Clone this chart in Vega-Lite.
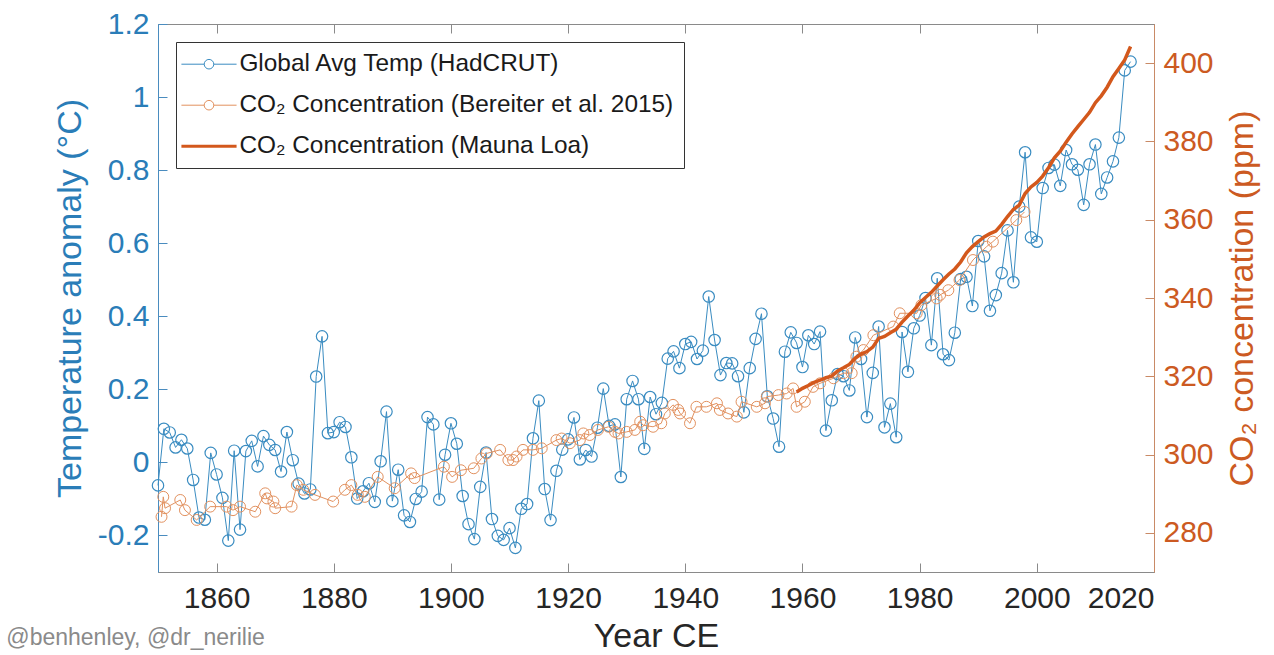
{
  "$schema": "https://vega.github.io/schema/vega-lite/v6.json",
  "width": 996,
  "height": 548,
  "autosize": {"type": "none"},
  "padding": {"left": 158, "top": 24, "right": 120, "bottom": 83},
  "background": "white",
  "config": {
    "font": "Liberation Sans",
    "view": {"stroke": "#8a8a8a", "strokeWidth": 1},
    "axis": {
      "grid": false,
      "labelFont": "Liberation Sans",
      "titleFont": "Liberation Sans",
      "titleFontWeight": "normal",
      "tickSize": -9,
      "labelFontSize": 30,
      "titleFontSize": 34,
      "domainWidth": 1,
      "tickWidth": 1
    }
  },
  "title": {
    "text": "@benhenley, @dr_nerilie",
    "orient": "bottom",
    "anchor": "start",
    "frame": "bounds",
    "fontSize": 23,
    "fontWeight": "normal",
    "color": "#8a8a8a",
    "font": "Liberation Sans",
    "dx": -47,
    "offset": -26
  },
  "datasets": {
    "temp": [
      {"year": 1850, "anomaly": -0.063}, {"year": 1851, "anomaly": 0.092}, {"year": 1852, "anomaly": 0.082}, {"year": 1853, "anomaly": 0.041}, {"year": 1854, "anomaly": 0.062},
      {"year": 1855, "anomaly": 0.038}, {"year": 1856, "anomaly": -0.048}, {"year": 1857, "anomaly": -0.151}, {"year": 1858, "anomaly": -0.157}, {"year": 1859, "anomaly": 0.026},
      {"year": 1860, "anomaly": -0.033}, {"year": 1861, "anomaly": -0.097}, {"year": 1862, "anomaly": -0.214}, {"year": 1863, "anomaly": 0.032}, {"year": 1864, "anomaly": -0.184},
      {"year": 1865, "anomaly": 0.031}, {"year": 1866, "anomaly": 0.059}, {"year": 1867, "anomaly": -0.011}, {"year": 1868, "anomaly": 0.072}, {"year": 1869, "anomaly": 0.048},
      {"year": 1870, "anomaly": 0.034}, {"year": 1871, "anomaly": -0.025}, {"year": 1872, "anomaly": 0.083}, {"year": 1873, "anomaly": 0.006}, {"year": 1874, "anomaly": -0.058},
      {"year": 1875, "anomaly": -0.085}, {"year": 1876, "anomaly": -0.074}, {"year": 1877, "anomaly": 0.235}, {"year": 1878, "anomaly": 0.345}, {"year": 1879, "anomaly": 0.08},
      {"year": 1880, "anomaly": 0.083}, {"year": 1881, "anomaly": 0.11}, {"year": 1882, "anomaly": 0.097}, {"year": 1883, "anomaly": 0.014}, {"year": 1884, "anomaly": -0.099},
      {"year": 1885, "anomaly": -0.079}, {"year": 1886, "anomaly": -0.057}, {"year": 1887, "anomaly": -0.108}, {"year": 1888, "anomaly": 0.003}, {"year": 1889, "anomaly": 0.139},
      {"year": 1890, "anomaly": -0.106}, {"year": 1891, "anomaly": -0.02}, {"year": 1892, "anomaly": -0.145}, {"year": 1893, "anomaly": -0.163}, {"year": 1894, "anomaly": -0.1},
      {"year": 1895, "anomaly": -0.08}, {"year": 1896, "anomaly": 0.124}, {"year": 1897, "anomaly": 0.104}, {"year": 1898, "anomaly": -0.102}, {"year": 1899, "anomaly": 0.021},
      {"year": 1900, "anomaly": 0.107}, {"year": 1901, "anomaly": 0.051}, {"year": 1902, "anomaly": -0.092}, {"year": 1903, "anomaly": -0.169}, {"year": 1904, "anomaly": -0.21},
      {"year": 1905, "anomaly": -0.067}, {"year": 1906, "anomaly": 0.027}, {"year": 1907, "anomaly": -0.155}, {"year": 1908, "anomaly": -0.201}, {"year": 1909, "anomaly": -0.212},
      {"year": 1910, "anomaly": -0.18}, {"year": 1911, "anomaly": -0.234}, {"year": 1912, "anomaly": -0.127}, {"year": 1913, "anomaly": -0.114}, {"year": 1914, "anomaly": 0.066},
      {"year": 1915, "anomaly": 0.169}, {"year": 1916, "anomaly": -0.073}, {"year": 1917, "anomaly": -0.158}, {"year": 1918, "anomaly": -0.023}, {"year": 1919, "anomaly": 0.035},
      {"year": 1920, "anomaly": 0.063}, {"year": 1921, "anomaly": 0.123}, {"year": 1922, "anomaly": 0.008}, {"year": 1923, "anomaly": 0.034}, {"year": 1924, "anomaly": 0.016},
      {"year": 1925, "anomaly": 0.095}, {"year": 1926, "anomaly": 0.202}, {"year": 1927, "anomaly": 0.1}, {"year": 1928, "anomaly": 0.104}, {"year": 1929, "anomaly": -0.04},
      {"year": 1930, "anomaly": 0.173}, {"year": 1931, "anomaly": 0.223}, {"year": 1932, "anomaly": 0.173}, {"year": 1933, "anomaly": 0.037}, {"year": 1934, "anomaly": 0.179},
      {"year": 1935, "anomaly": 0.132}, {"year": 1936, "anomaly": 0.163}, {"year": 1937, "anomaly": 0.284}, {"year": 1938, "anomaly": 0.304}, {"year": 1939, "anomaly": 0.258},
      {"year": 1940, "anomaly": 0.324}, {"year": 1941, "anomaly": 0.33}, {"year": 1942, "anomaly": 0.283}, {"year": 1943, "anomaly": 0.306}, {"year": 1944, "anomaly": 0.454},
      {"year": 1945, "anomaly": 0.335}, {"year": 1946, "anomaly": 0.239}, {"year": 1947, "anomaly": 0.272}, {"year": 1948, "anomaly": 0.271}, {"year": 1949, "anomaly": 0.236},
      {"year": 1950, "anomaly": 0.137}, {"year": 1951, "anomaly": 0.258}, {"year": 1952, "anomaly": 0.338}, {"year": 1953, "anomaly": 0.407}, {"year": 1954, "anomaly": 0.181},
      {"year": 1955, "anomaly": 0.12}, {"year": 1956, "anomaly": 0.043}, {"year": 1957, "anomaly": 0.303}, {"year": 1958, "anomaly": 0.356}, {"year": 1959, "anomaly": 0.327},
      {"year": 1960, "anomaly": 0.261}, {"year": 1961, "anomaly": 0.348}, {"year": 1962, "anomaly": 0.324}, {"year": 1963, "anomaly": 0.358}, {"year": 1964, "anomaly": 0.087},
      {"year": 1965, "anomaly": 0.17}, {"year": 1966, "anomaly": 0.242}, {"year": 1967, "anomaly": 0.236}, {"year": 1968, "anomaly": 0.197}, {"year": 1969, "anomaly": 0.342},
      {"year": 1970, "anomaly": 0.283}, {"year": 1971, "anomaly": 0.124}, {"year": 1972, "anomaly": 0.245}, {"year": 1973, "anomaly": 0.372}, {"year": 1974, "anomaly": 0.096},
      {"year": 1975, "anomaly": 0.161}, {"year": 1976, "anomaly": 0.069}, {"year": 1977, "anomaly": 0.357}, {"year": 1978, "anomaly": 0.248}, {"year": 1979, "anomaly": 0.367},
      {"year": 1980, "anomaly": 0.402}, {"year": 1981, "anomaly": 0.45}, {"year": 1982, "anomaly": 0.321}, {"year": 1983, "anomaly": 0.504}, {"year": 1984, "anomaly": 0.296},
      {"year": 1985, "anomaly": 0.28}, {"year": 1986, "anomaly": 0.355}, {"year": 1987, "anomaly": 0.502}, {"year": 1988, "anomaly": 0.508}, {"year": 1989, "anomaly": 0.428},
      {"year": 1990, "anomaly": 0.606}, {"year": 1991, "anomaly": 0.564}, {"year": 1992, "anomaly": 0.415}, {"year": 1993, "anomaly": 0.458}, {"year": 1994, "anomaly": 0.518},
      {"year": 1995, "anomaly": 0.635}, {"year": 1996, "anomaly": 0.493}, {"year": 1997, "anomaly": 0.7}, {"year": 1998, "anomaly": 0.849}, {"year": 1999, "anomaly": 0.616},
      {"year": 2000, "anomaly": 0.604}, {"year": 2001, "anomaly": 0.751}, {"year": 2002, "anomaly": 0.806}, {"year": 2003, "anomaly": 0.815}, {"year": 2004, "anomaly": 0.757},
      {"year": 2005, "anomaly": 0.855}, {"year": 2006, "anomaly": 0.816}, {"year": 2007, "anomaly": 0.801}, {"year": 2008, "anomaly": 0.705}, {"year": 2009, "anomaly": 0.816},
      {"year": 2010, "anomaly": 0.87}, {"year": 2011, "anomaly": 0.735}, {"year": 2012, "anomaly": 0.78}, {"year": 2013, "anomaly": 0.824}, {"year": 2014, "anomaly": 0.889},
      {"year": 2015, "anomaly": 1.073}, {"year": 2016, "anomaly": 1.097}
    ],
    "bereiter": [
      {"year": 1850.6, "co2": 284.1}, {"year": 1850.9, "co2": 289.2}, {"year": 1851.2, "co2": 286.3}, {"year": 1853.8, "co2": 288.4}, {"year": 1854.6, "co2": 285.8},
      {"year": 1856.6, "co2": 283.3}, {"year": 1858.9, "co2": 286.7}, {"year": 1861.7, "co2": 286.7}, {"year": 1862.8, "co2": 285.8}, {"year": 1864.0, "co2": 286.7},
      {"year": 1866.6, "co2": 285.4}, {"year": 1868.3, "co2": 290.1}, {"year": 1868.6, "co2": 288.8}, {"year": 1869.7, "co2": 288.0}, {"year": 1870.0, "co2": 286.3},
      {"year": 1872.8, "co2": 286.7}, {"year": 1873.7, "co2": 292.2}, {"year": 1874.8, "co2": 291.0}, {"year": 1876.8, "co2": 289.7}, {"year": 1879.9, "co2": 288.0},
      {"year": 1881.9, "co2": 291.0}, {"year": 1883.0, "co2": 292.2}, {"year": 1884.1, "co2": 289.7}, {"year": 1885.3, "co2": 289.2}, {"year": 1887.5, "co2": 294.3},
      {"year": 1890.4, "co2": 291.4}, {"year": 1893.2, "co2": 295.2}, {"year": 1893.8, "co2": 294.0}, {"year": 1898.8, "co2": 296.9}, {"year": 1900.2, "co2": 294.3},
      {"year": 1901.7, "co2": 296.0}, {"year": 1903.9, "co2": 296.5}, {"year": 1905.2, "co2": 299.0}, {"year": 1906.1, "co2": 300.3}, {"year": 1908.4, "co2": 301.2},
      {"year": 1909.8, "co2": 298.6}, {"year": 1910.6, "co2": 298.6}, {"year": 1911.2, "co2": 299.5}, {"year": 1912.3, "co2": 301.2}, {"year": 1914.0, "co2": 301.2},
      {"year": 1915.5, "co2": 301.6}, {"year": 1918.0, "co2": 303.7}, {"year": 1918.9, "co2": 304.1}, {"year": 1920.3, "co2": 302.9}, {"year": 1922.0, "co2": 303.7},
      {"year": 1922.6, "co2": 305.4}, {"year": 1923.7, "co2": 305.0}, {"year": 1925.1, "co2": 306.3}, {"year": 1926.9, "co2": 307.1}, {"year": 1928.0, "co2": 305.8},
      {"year": 1928.6, "co2": 305.4}, {"year": 1930.0, "co2": 305.8}, {"year": 1931.4, "co2": 306.3}, {"year": 1932.3, "co2": 308.4}, {"year": 1932.8, "co2": 307.5},
      {"year": 1934.5, "co2": 307.1}, {"year": 1935.9, "co2": 308.0}, {"year": 1936.5, "co2": 310.5}, {"year": 1937.9, "co2": 312.7}, {"year": 1938.8, "co2": 311.4},
      {"year": 1939.1, "co2": 310.5}, {"year": 1940.8, "co2": 308.0}, {"year": 1941.9, "co2": 312.2}, {"year": 1943.6, "co2": 312.2}, {"year": 1945.4, "co2": 313.1},
      {"year": 1945.9, "co2": 311.4}, {"year": 1947.3, "co2": 310.5}, {"year": 1948.8, "co2": 309.7}, {"year": 1949.6, "co2": 313.5}, {"year": 1952.2, "co2": 312.2},
      {"year": 1953.6, "co2": 313.1}, {"year": 1953.9, "co2": 314.8}, {"year": 1955.9, "co2": 315.2}, {"year": 1957.3, "co2": 315.6}, {"year": 1958.4, "co2": 316.9},
      {"year": 1959.0, "co2": 312.2}, {"year": 1960.4, "co2": 313.5}, {"year": 1961.8, "co2": 317.3}, {"year": 1963.0, "co2": 318.2}, {"year": 1965.3, "co2": 319.5},
      {"year": 1967.0, "co2": 320.8}, {"year": 1968.4, "co2": 320.8}, {"year": 1969.2, "co2": 325.0}, {"year": 1970.4, "co2": 326.7}, {"year": 1972.1, "co2": 330.5},
      {"year": 1975.5, "co2": 332.7}, {"year": 1976.6, "co2": 336.1}, {"year": 1979.5, "co2": 336.1}, {"year": 1980.3, "co2": 338.2}, {"year": 1982.9, "co2": 339.9},
      {"year": 1983.5, "co2": 340.8}, {"year": 1984.9, "co2": 342.0}, {"year": 1986.8, "co2": 344.6}, {"year": 1989.1, "co2": 349.7}, {"year": 1991.4, "co2": 353.1},
      {"year": 1992.5, "co2": 354.4}, {"year": 1996.5, "co2": 359.9}, {"year": 1997.9, "co2": 362.0}
    ],
    "maunaloa": [
      {"year": 1959, "co2": 315.97}, {"year": 1960, "co2": 316.91}, {"year": 1961, "co2": 317.64}, {"year": 1962, "co2": 318.45}, {"year": 1963, "co2": 318.99},
      {"year": 1964, "co2": 319.62}, {"year": 1965, "co2": 320.04}, {"year": 1966, "co2": 321.38}, {"year": 1967, "co2": 322.16}, {"year": 1968, "co2": 323.04},
      {"year": 1969, "co2": 324.62}, {"year": 1970, "co2": 325.68}, {"year": 1971, "co2": 326.32}, {"year": 1972, "co2": 327.45}, {"year": 1973, "co2": 329.68},
      {"year": 1974, "co2": 330.18}, {"year": 1975, "co2": 331.11}, {"year": 1976, "co2": 332.04}, {"year": 1977, "co2": 333.83}, {"year": 1978, "co2": 335.4},
      {"year": 1979, "co2": 336.84}, {"year": 1980, "co2": 338.75}, {"year": 1981, "co2": 340.11}, {"year": 1982, "co2": 341.45}, {"year": 1983, "co2": 343.05},
      {"year": 1984, "co2": 344.65}, {"year": 1985, "co2": 346.12}, {"year": 1986, "co2": 347.42}, {"year": 1987, "co2": 349.19}, {"year": 1988, "co2": 351.57},
      {"year": 1989, "co2": 353.12}, {"year": 1990, "co2": 354.39}, {"year": 1991, "co2": 355.61}, {"year": 1992, "co2": 356.45}, {"year": 1993, "co2": 357.1},
      {"year": 1994, "co2": 358.83}, {"year": 1995, "co2": 360.82}, {"year": 1996, "co2": 362.61}, {"year": 1997, "co2": 363.73}, {"year": 1998, "co2": 366.7},
      {"year": 1999, "co2": 368.38}, {"year": 2000, "co2": 369.55}, {"year": 2001, "co2": 371.14}, {"year": 2002, "co2": 373.28}, {"year": 2003, "co2": 375.8},
      {"year": 2004, "co2": 377.52}, {"year": 2005, "co2": 379.8}, {"year": 2006, "co2": 381.9}, {"year": 2007, "co2": 383.79}, {"year": 2008, "co2": 385.6},
      {"year": 2009, "co2": 387.43}, {"year": 2010, "co2": 389.9}, {"year": 2011, "co2": 391.65}, {"year": 2012, "co2": 393.85}, {"year": 2013, "co2": 396.52},
      {"year": 2014, "co2": 398.65}, {"year": 2015, "co2": 400.83}, {"year": 2016, "co2": 404.24}
    ]
  },
  "layer": [
    {
      "data": {"name": "temp"},
      "mark": {"type": "line", "strokeWidth": 1, "point": {"filled": false, "size": 130, "strokeWidth": 1.2}},
      "encoding": {
        "x": {
          "field": "year", "type": "quantitative",
          "scale": {"domain": [1850, 2020], "nice": false, "zero": false},
          "axis": {
            "orient": "bottom", "values": [1860, 1880, 1900, 1920, 1940, 1960, 1980, 2000, 2020], "format": "d",
            "title": "Year CE", "labelColor": "#262626", "titleColor": "#262626",
            "domainColor": "#8a8a8a", "tickColor": "#8a8a8a", "labelPadding": 20, "titlePadding": 6
          }
        },
        "y": {
          "field": "anomaly", "type": "quantitative",
          "scale": {"domain": [-0.3, 1.2], "nice": false, "zero": false},
          "axis": {
            "orient": "left", "values": [-0.2, 0, 0.2, 0.4, 0.6, 0.8, 1, 1.2],
            "labelExpr": "'' + round(datum.value * 10) / 10",
            "title": "Temperature anomaly (°C)", "labelColor": "#2a7db8", "titleColor": "#2a7db8",
            "domainColor": "#4a8cbf", "tickColor": "#4a8cbf", "labelPadding": 18, "titlePadding": 10
          }
        },
        "color": {
          "datum": "Global Avg Temp (HadCRUT)", "type": "nominal",
          "scale": {
            "domain": ["Global Avg Temp (HadCRUT)", "CO₂ Concentration (Bereiter et al. 2015)", "CO₂ Concentration (Mauna Loa)"],
            "range": ["#3a8cc1", "#e2915f", "#d3581c"]
          },
          "legend": {
            "title": null, "orient": "top-left", "offset": 18, "direction": "vertical",
            "strokeColor": "#333333", "fillColor": "white", "padding": 10,
            "labelFont": "Liberation Sans", "labelFontSize": 24.4, "labelColor": "#1a1a1a", "labelLimit": 700, "labelOffset": 29,
            "symbolSize": 2300, "rowPadding": 16, "symbolStrokeWidth": 1,
            "encode": {
              "symbols": {
                "update": {
                  "shape": {"signal": "datum.value == 'CO₂ Concentration (Mauna Loa)' ? 'M-0.7,0H1.6' : 'M-0.7,0H0.25M0.65,0H1.6M0.65,0A0.2,0.2 0 1 1 0.25,0A0.2,0.2 0 1 1 0.65,0'"},
                  "strokeWidth": {"signal": "datum.value == 'CO₂ Concentration (Mauna Loa)' ? 3 : 1"},
                  "fill": {"value": "transparent"},
                  "opacity": {"value": 1}
                }
              }
            }
          }
        }
      }
    },
    {
      "layer": [
        {
          "data": {"name": "bereiter"},
          "mark": {"type": "line", "strokeWidth": 1, "point": {"filled": false, "size": 120, "strokeWidth": 1}},
          "encoding": {
            "x": {
              "field": "year", "type": "quantitative",
              "axis": {"orient": "top", "values": [1860, 1880, 1900, 1920, 1940, 1960, 1980, 2000, 2020], "labels": false, "title": null, "domainColor": "#8a8a8a", "tickColor": "#8a8a8a"}
            },
            "y": {
              "field": "co2", "type": "quantitative",
              "scale": {"domain": [270, 410], "nice": false, "zero": false},
              "axis": {
                "orient": "right", "values": [280, 300, 320, 340, 360, 380, 400],
                "title": "CO₂ concentration (ppm)", "titleAngle": 270, "titleBaseline": "top",
                "labelColor": "#cc5a22", "titleColor": "#cc5a22",
                "domainColor": "#c98a66", "tickColor": "#c98a66", "labelPadding": 18, "titlePadding": 12
              }
            },
            "color": {"datum": "CO₂ Concentration (Bereiter et al. 2015)", "type": "nominal"}
          }
        },
        {
          "data": {"name": "maunaloa"},
          "mark": {"type": "line", "strokeWidth": 3.5},
          "encoding": {
            "x": {"field": "year", "type": "quantitative"},
            "y": {"field": "co2", "type": "quantitative"},
            "color": {"datum": "CO₂ Concentration (Mauna Loa)", "type": "nominal"}
          }
        }
      ]
    }
  ],
  "resolve": {"scale": {"y": "independent"}, "axis": {"x": "independent"}}
}
